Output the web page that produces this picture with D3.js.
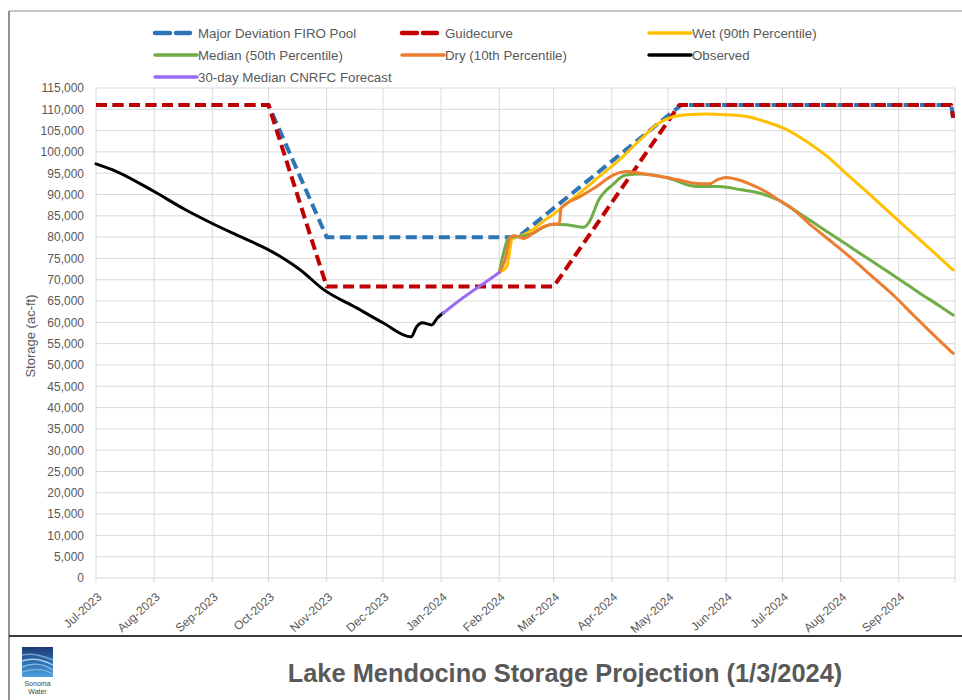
<!DOCTYPE html>
<html>
<head>
<meta charset="utf-8">
<script src="https://cdn.jsdelivr.net/npm/d3@7/dist/d3.min.js"></script>
<style>
  html, body { margin: 0; padding: 0; background: #fff; }
  svg { display: block; font-family: "Liberation Sans", Arial, sans-serif; }
</style>
</head>
<body>
<svg id="chart" width="962" height="700"></svg>
<script>
// ---------- DATA ----------
const monthTicks = ["2023-07-01","2023-08-01","2023-09-01","2023-10-01","2023-11-01","2023-12-01",
  "2024-01-01","2024-02-01","2024-03-01","2024-04-01","2024-05-01","2024-06-01","2024-07-01",
  "2024-08-01","2024-09-01"];
const yTicks = d3.range(0, 115001, 5000);

const firoPool = [["2023-07-01",111000],["2023-10-01",111000],["2023-11-01",80000],["2024-02-11",80000],
  ["2024-05-08",111000],["2024-09-29",111000],["2024-09-30",108000]];
const guidecurve = [["2023-07-01",111000],["2023-10-01",111000],["2023-11-01",68400],["2024-03-01",68400],
  ["2024-05-07",111000],["2024-09-29",111000],["2024-09-30",108000]];
const observed = [["2023-07-01",97200],["2023-07-12",95400],["2023-08-01",90700],["2023-08-17",86600],
  ["2023-09-01",83200],["2023-09-16",80100],["2023-10-01",77000],["2023-10-09",75000],["2023-10-18",72300],
  ["2023-10-30",67800],["2023-11-17",63400],["2023-12-01",59900],["2023-12-16",56600],["2023-12-19",59000],
  ["2023-12-22",59900],["2023-12-27",59400],["2023-12-30",61000],["2024-01-02",62200]];
const forecast = [["2024-01-02",62100],["2024-01-10",64900],["2024-01-18",67400],["2024-01-26",69800],
  ["2024-02-01",71700]];
const wet = [["2024-02-01",71700],["2024-02-05",73000],["2024-02-08",79700],["2024-02-12",80200],
  ["2024-02-19",81800],["2024-02-25",83900],["2024-03-01",85400],["2024-03-08",87900],["2024-03-15",90400],
  ["2024-03-25",94100],["2024-04-05",98100],["2024-04-16",102800],["2024-04-26",106700],["2024-05-04",108300],
  ["2024-05-11",108700],["2024-05-21",108900],["2024-06-01",108700],["2024-06-12",108300],["2024-06-22",107100],
  ["2024-07-03",105300],["2024-07-14",102400],["2024-07-25",98900],["2024-08-05",94500],["2024-08-15",90600],
  ["2024-08-26",86200],["2024-09-05",82200],["2024-09-16",77900],["2024-09-30",72300]];
const median = [["2024-02-01",71700],["2024-02-03",75700],["2024-02-05",78900],["2024-02-07",80000],
  ["2024-02-12",80200],["2024-02-19",80900],["2024-02-25",82400],["2024-03-01",83000],["2024-03-08",82900],
  ["2024-03-17",82300],["2024-03-20",83600],["2024-03-25",88700],["2024-04-02",92500],["2024-04-08",94500],
  ["2024-04-16",94800],["2024-04-30",94000],["2024-05-16",91900],["2024-05-28",91900],["2024-06-08",91200],
  ["2024-06-19",90300],["2024-06-29",88700],["2024-07-10",85600],["2024-07-21",82400],["2024-08-01",79200],
  ["2024-08-12",76000],["2024-08-22",73100],["2024-09-02",69900],["2024-09-12",66900],["2024-09-23",63800],
  ["2024-09-30",61700]];
const dry = [["2024-02-01",71700],["2024-02-04",74500],["2024-02-07",80000],["2024-02-09",80300],
  ["2024-02-14",79700],["2024-02-19",80900],["2024-02-25",82500],["2024-03-01",83100],["2024-03-04",83100],
  ["2024-03-05",86800],["2024-03-15",89500],["2024-03-24",91900],["2024-04-02",94600],["2024-04-09",95400],
  ["2024-04-16",95000],["2024-04-30",94000],["2024-05-07",93400],["2024-05-16",92600],["2024-05-23",92500],
  ["2024-05-28",93600],["2024-06-01",94000],["2024-06-08",93400],["2024-06-15",92200],["2024-06-22",90700],
  ["2024-06-29",88700],["2024-07-07",86400],["2024-07-17",82500],["2024-07-28",78600],["2024-08-08",74600],
  ["2024-08-19",70300],["2024-08-30",66000],["2024-09-09",61600],["2024-09-19",57300],["2024-09-30",52700]];

const seriesNames = ["Major Deviation FIRO Pool","Guidecurve","Wet (90th Percentile)","Median (50th Percentile)",
  "Dry (10th Percentile)","Observed","30-day Median CNRFC Forecast"];
const titleText = "Lake Mendocino Storage Projection (1/3/2024)";
const yAxisTitle = "Storage (ac-ft)";

// ---------- SETUP ----------
const parse = d3.timeParse("%Y-%m-%d");
const svg = d3.select("#chart");
const pLeft = 96, pRight = 955, pTop = 88, pBottom = 578;

const x = d3.scaleTime().domain([parse("2023-07-01"), parse("2024-10-01")]).range([pLeft, pRight]);
const y = d3.scaleLinear().domain([0, 115000]).range([pBottom, pTop]);

const series = [
  {name: seriesNames[0], data: firoPool, color: "#2e75b6", dashed: true},
  {name: seriesNames[1], data: guidecurve, color: "#c00000", dashed: true},
  {name: seriesNames[2], data: wet, color: "#ffc000"},
  {name: seriesNames[3], data: median, color: "#70ad47"},
  {name: seriesNames[4], data: dry, color: "#ed7d31"},
  {name: seriesNames[5], data: observed, color: "#000000"},
  {name: seriesNames[6], data: forecast, color: "#9b6bf2"}
];

// outer frame
svg.append("line").attr("x1", 9).attr("y1", 11).attr("x2", 962).attr("y2", 11)
  .attr("stroke", "#8c8c8c").attr("stroke-width", 1.2);
svg.append("line").attr("x1", 9).attr("y1", 11).attr("x2", 9).attr("y2", 700)
  .attr("stroke", "#6f6f6f").attr("stroke-width", 1.5);
svg.append("line").attr("x1", 9).attr("y1", 636).attr("x2", 962).attr("y2", 636)
  .attr("stroke", "#3a3a3a").attr("stroke-width", 2);

// gridlines
const gridTicks = monthTicks.map(parse).concat([parse("2024-10-01")]);
svg.append("g").selectAll("line").data(gridTicks).join("line")
  .attr("x1", d => x(d)).attr("x2", d => x(d)).attr("y1", pTop).attr("y2", pBottom + 4)
  .attr("stroke", "#d9d9d9").attr("stroke-width", 1);
svg.append("g").selectAll("line").data(yTicks).join("line")
  .attr("x1", pLeft).attr("x2", pRight).attr("y1", d => y(d)).attr("y2", d => y(d))
  .attr("stroke", "#d9d9d9").attr("stroke-width", 1);

// y axis labels
const yAxis = d3.axisLeft(y).tickValues(yTicks).tickFormat(d3.format(",")).tickSize(0).tickPadding(12);
const yg = svg.append("g").attr("transform", `translate(${pLeft},0)`).call(yAxis);
yg.select(".domain").remove();
yg.selectAll("text").attr("fill", "#595959").style("font-size", "12px")
  .style("font-family", "'Liberation Sans', Arial, sans-serif");

// x axis labels
const xAxis = d3.axisBottom(x).tickValues(monthTicks.map(parse)).tickFormat(d3.timeFormat("%b-%Y")).tickSize(0);
const xg = svg.append("g").attr("transform", `translate(0,${pBottom})`).call(xAxis);
xg.select(".domain").remove();
xg.selectAll("text").attr("fill", "#595959").style("font-size", "12px")
  .style("font-family", "'Liberation Sans', Arial, sans-serif")
  .attr("text-anchor", "end").attr("dy", null).attr("y", null)
  .attr("transform", "translate(6,20) rotate(-42)");

// y axis title
svg.append("text").attr("transform", "translate(35,336) rotate(-90)")
  .attr("text-anchor", "middle").attr("fill", "#595959").style("font-size", "13px").text(yAxisTitle);

// lines
const line = d3.line().x(d => x(parse(d[0]))).y(d => y(d[1]));
series.forEach(s => {
  svg.append("path").datum(s.data)
    .attr("fill", "none")
    .attr("stroke", s.color)
    .attr("stroke-width", s.dashed ? 4 : 3)
    .attr("stroke-dasharray", s.dashed ? "11,5.5" : null)
    .attr("stroke-linejoin", "round")
    .attr("stroke-linecap", s.dashed ? "butt" : "round")
    .attr("d", line.curve(s.dashed ? d3.curveLinear : d3.curveMonotoneX));
});

// legend
const legendPos = [[155,33],[402,33],[649,33],[155,55],[402,55],[649,55],[155,77]];
series.forEach((s, i) => {
  const [lx, ly] = legendPos[i];
  const g = svg.append("g");
  if (s.dashed) {
    g.append("line").attr("x1", lx).attr("x2", lx + 15).attr("y1", ly).attr("y2", ly)
      .attr("stroke", s.color).attr("stroke-width", 4.5).attr("stroke-linecap", "round");
    g.append("line").attr("x1", lx + 21).attr("x2", lx + 35).attr("y1", ly).attr("y2", ly)
      .attr("stroke", s.color).attr("stroke-width", 4.5).attr("stroke-linecap", "round");
  } else {
    g.append("line").attr("x1", lx).attr("x2", lx + 42).attr("y1", ly).attr("y2", ly)
      .attr("stroke", s.color).attr("stroke-width", 3.5).attr("stroke-linecap", "round");
  }
  g.append("text").attr("x", lx + 43).attr("y", ly + 4.5).attr("fill", "#595959")
    .style("font-size", "13.3px").text(s.name);
});

// title
svg.append("text").attr("x", 565).attr("y", 682).attr("text-anchor", "middle")
  .attr("fill", "#595959").style("font-size", "25.4px").style("font-weight", "bold").text(titleText);

// logo
const defs = svg.append("defs");
const grad = defs.append("linearGradient").attr("id", "logoGrad").attr("x1", 0).attr("y1", 0).attr("x2", 0).attr("y2", 1);
grad.append("stop").attr("offset", "0%").attr("stop-color", "#1d3a72");
grad.append("stop").attr("offset", "50%").attr("stop-color", "#2b6fb3");
grad.append("stop").attr("offset", "100%").attr("stop-color", "#4b9fdc");
const logo = svg.append("g");
logo.append("rect").attr("x", 22).attr("y", 647).attr("width", 31).attr("height", 30).attr("fill", "url(#logoGrad)");
[["M22,655 Q34,652 53,660", 0.5], ["M22,661 Q36,656 53,665", 0.8], ["M22,667 Q38,660 53,670", 0.6],
 ["M22,672 Q40,666 53,674", 0.4]].forEach(([p, o]) => {
  logo.append("path").attr("d", p).attr("fill", "none").attr("stroke", "#cfe6fa")
    .attr("stroke-opacity", o).attr("stroke-width", 1.4);
});
logo.append("text").attr("x", 37.5).attr("y", 686).attr("text-anchor", "middle").attr("fill", "#444")
  .style("font-size", "7px").text("Sonoma");
logo.append("text").attr("x", 37.5).attr("y", 694).attr("text-anchor", "middle").attr("fill", "#444")
  .style("font-size", "7px").text("Water");
</script>
</body>
</html>
